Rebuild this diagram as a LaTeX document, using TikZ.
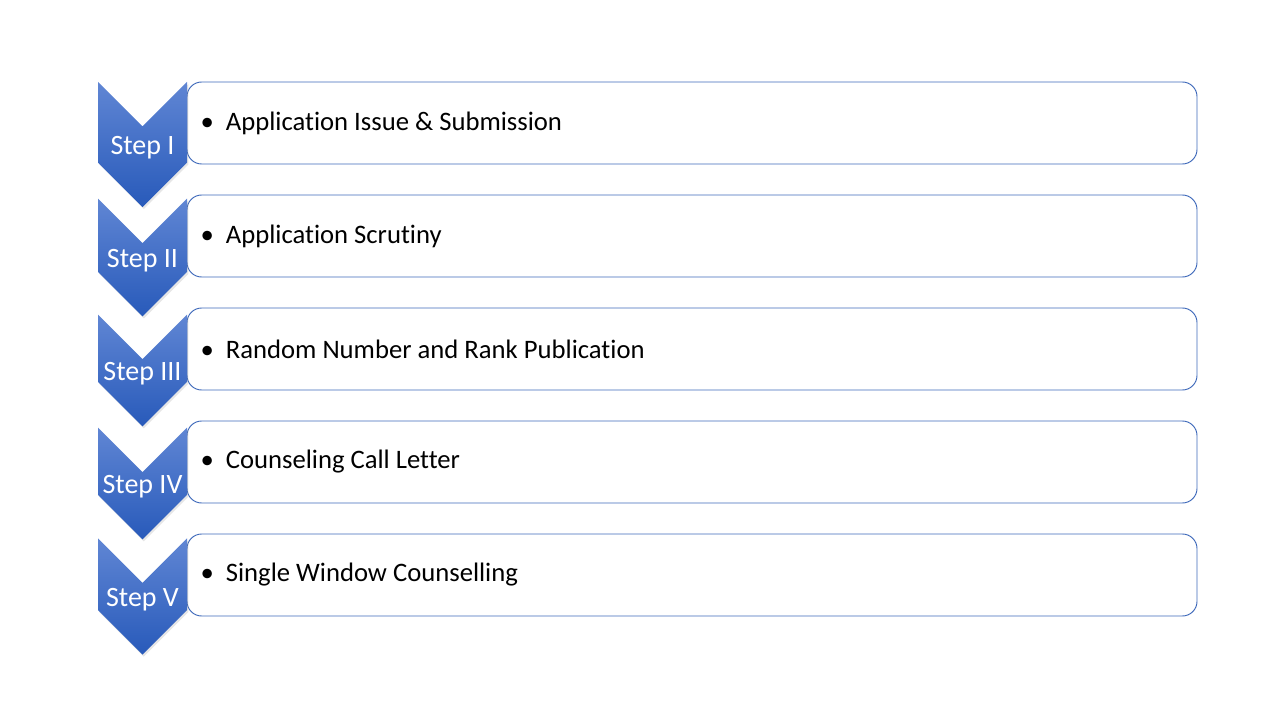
\documentclass[tikz,border=0pt]{standalone}
\usepackage{fontspec}
\setmainfont[Ligatures=NoCommon]{Carlito}
\usetikzlibrary{positioning,shapes.symbols,shadows}
\definecolor{lineblue}{RGB}{62,105,186}
\definecolor{chevtop}{RGB}{96,134,212}
\definecolor{chevbot}{RGB}{40,90,186}

\begin{document}
\begin{tikzpicture}[x=0.75pt,y=-0.75pt,node distance=84.75pt,on grid,
    infobox/.style={draw=lineblue,line width=0.7pt,rounded corners=11pt,fill=white,
        minimum width=757.5pt,minimum height=61.5pt},
    steplabel/.style={text=white,font=\fontsize{21}{25}\selectfont,yshift=-2.25pt},
    chevron/.style={signal,signal from=north,signal to=south,
        signal pointer angle=90,minimum width=66.75pt,minimum height=75pt,
        inner sep=0pt,top color=chevtop,bottom color=chevbot,
        font=\fontsize{21}{25}\selectfont,
        drop shadow={shadow xshift=1pt,shadow yshift=-1.5pt,opacity=.2},
        label={[steplabel]center:#1}},
    itemtext/.style={anchor=west,font=\fontsize{20}{24}\selectfont}]
    \useasboundingbox (0,0) rectangle (1280,720);
    % boxes
    \node[infobox] (box_1) at (692,123) {};
    \node[infobox] (box_2) [below=of box_1] {};
    \node[infobox] (box_3) [below=of box_2] {};
    \node[infobox] (box_4) [below=of box_3] {};
    \node[infobox] (box_5) [below=of box_4] {};
    % chevrons
    \node[chevron=Step I] (step_1) at (142.5,144.5) {\phantom{Step I}};
    \node[chevron=Step II] (step_2) [below=of step_1] {\phantom{Step II}};
    \node[chevron=Step III] (step_3) [below=of step_2] {\phantom{Step III}};
    \node[chevron=Step IV] (step_4) [below=of step_3] {\phantom{Step IV}};
    \node[chevron=Step V] (step_5) [below=of step_4] {\phantom{Step V}};
    % items
    \node[itemtext] (item_1) at ([xshift=7pt]box_1.west) {\textbullet\hspace{9pt}Application Issue \& Submission};
    \node[itemtext] (item_2) at ([xshift=7pt]box_2.west) {\textbullet\hspace{9pt}Application Scrutiny};
    \node[itemtext] (item_3) at ([xshift=7pt]box_3.west) {\textbullet\hspace{9pt}Random Number and Rank Publication};
    \node[itemtext] (item_4) at ([xshift=7pt]box_4.west) {\textbullet\hspace{9pt}Counseling Call Letter};
    \node[itemtext] (item_5) at ([xshift=7pt]box_5.west) {\textbullet\hspace{9pt}Single Window Counselling};
\end{tikzpicture}
\end{document}
